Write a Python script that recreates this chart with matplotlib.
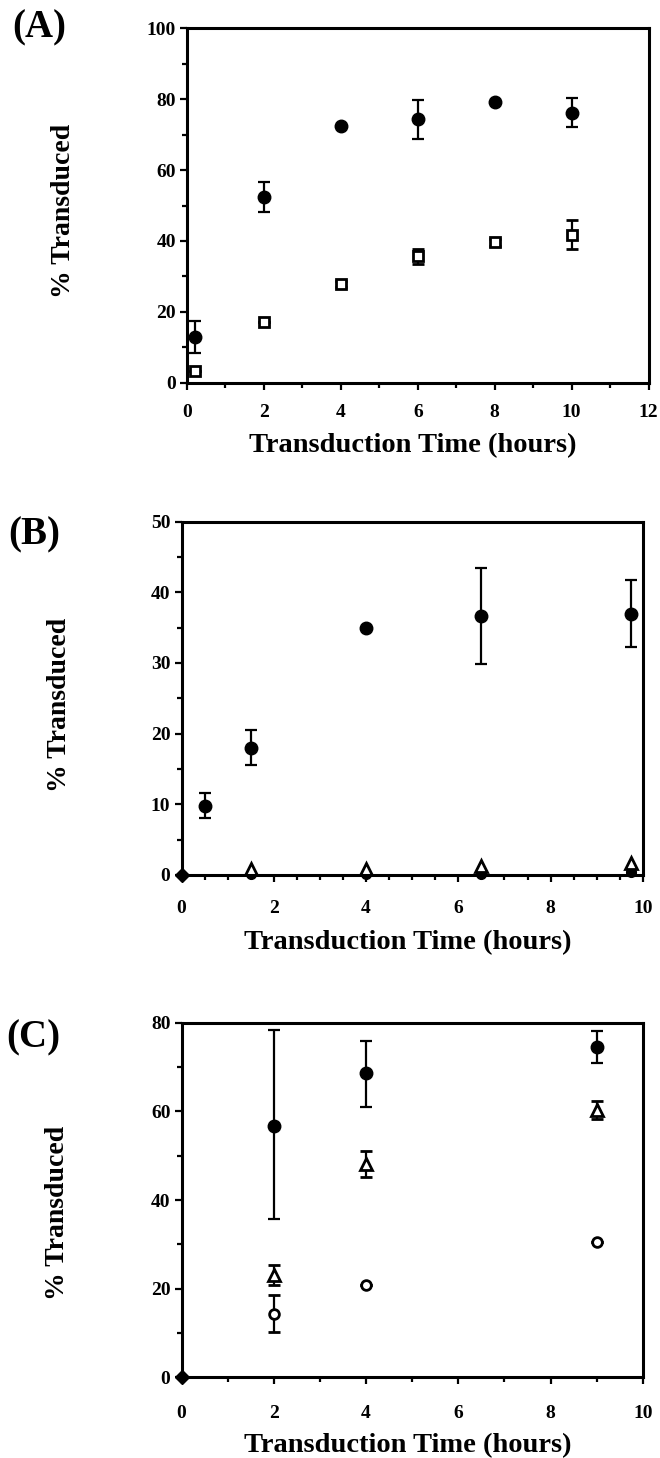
import matplotlib
matplotlib.use("Agg")
import matplotlib.pyplot as plt
from matplotlib.ticker import MultipleLocator

plt.rcParams['font.family'] = ['Liberation Serif', 'DejaVu Serif']
plt.rcParams['font.weight'] = 'bold'

# panel A
a_x = [0.2, 2, 4, 6, 8, 10]
a_fill = [13.0, 52.3, 72.4, 74.4, 79.1, 76.2]
a_fill_err = [4.5, 4.2, 0.0, 5.5, 0.0, 4.0]
a_open = [3.3, 17.2, 27.8, 35.7, 39.6, 41.7]
a_open_err = [0.0, 0.0, 0.8, 2.1, 1.0, 4.1]

# panel B
b_x = [0.5, 1.5, 4, 6.5, 9.75]
b_fill = [9.8, 18.0, 34.9, 36.6, 37.0]
b_fill_err = [1.8, 2.5, 0.0, 6.8, 4.8]
b_tri_x = [1.5, 4, 6.5, 9.75]
b_tri = [0.8, 0.8, 1.2, 1.7]
b_ctrl = [0.2, 0.2, 0.2, 0.4]

# panel C
c_x = [2, 4, 9]
c_fill = [56.7, 68.6, 74.6]
c_fill_err_lo = [20.9, 7.5, 3.6]
c_fill_err_hi = [21.6, 7.3, 3.6]
c_tri = [23.1, 48.1, 60.3]
c_tri_err = [2.2, 3.0, 2.0]
c_open = [14.4, 20.8, 30.6]
c_open_err = [4.1, 0.0, 0.0]

fig = plt.figure(figsize=(6.6, 14.58), dpi=100)

axA = fig.add_axes([0.2833, 0.7375, 0.6994, 0.2431])
axB = fig.add_axes([0.275, 0.3999, 0.699, 0.2423])
axC = fig.add_axes([0.275, 0.0553, 0.699, 0.2432])

ebkw = dict(ecolor='black', elinewidth=1.6, capsize=4.5, capthick=1.6, linestyle='none', clip_on=False)

# A
axA.errorbar(a_x, a_fill, yerr=a_fill_err, fmt='o', color='black', markersize=9, **ebkw)
axA.errorbar(a_x, a_open, yerr=a_open_err, fmt='s', mfc='white', mec='black', mew=2, markersize=7, **ebkw)
axA.set_xlim(0, 12)
axA.set_ylim(0, 100)
axA.xaxis.set_major_locator(MultipleLocator(2))
axA.xaxis.set_minor_locator(MultipleLocator(1))
axA.yaxis.set_major_locator(MultipleLocator(20))
axA.yaxis.set_minor_locator(MultipleLocator(10))

# B
axB.errorbar(b_x, b_fill, yerr=b_fill_err, fmt='o', color='black', markersize=9, **ebkw)
axB.plot(b_tri_x, b_ctrl, 'o', color='black', markersize=7, clip_on=False)
axB.plot(b_tri_x, b_tri, '^', mfc='white', mec='black', mew=2, markersize=9, clip_on=False)
axB.plot([0], [0], 'D', color='black', markersize=7, clip_on=False)
axB.set_xlim(0, 10)
axB.set_ylim(0, 50)
axB.xaxis.set_major_locator(MultipleLocator(2))
axB.xaxis.set_minor_locator(MultipleLocator(0.5))
axB.yaxis.set_major_locator(MultipleLocator(10))
axB.yaxis.set_minor_locator(MultipleLocator(5))

# C
axC.errorbar(c_x, c_fill, yerr=[c_fill_err_lo, c_fill_err_hi], fmt='o', color='black', markersize=9, **ebkw)
axC.errorbar(c_x, c_tri, yerr=c_tri_err, fmt='^', mfc='white', mec='black', mew=2, markersize=9, **ebkw)
axC.errorbar(c_x, c_open, yerr=c_open_err, fmt='o', mfc='white', mec='black', mew=2, markersize=7, **ebkw)
axC.plot([0], [0], 'D', color='black', markersize=7, clip_on=False)
axC.set_xlim(0, 10)
axC.set_ylim(0, 80)
axC.xaxis.set_major_locator(MultipleLocator(2))
axC.xaxis.set_minor_locator(MultipleLocator(1))
axC.yaxis.set_major_locator(MultipleLocator(20))
axC.yaxis.set_minor_locator(MultipleLocator(10))

xpads = [10, 13, 15]
xlab_y = [-0.141, -0.156, -0.157]
ylab_x = [-0.240, -0.237, -0.242]
ylab_y = [0.485, 0.481, 0.463]
for ax, xp, xy, yx, yy in zip([axA, axB, axC], xpads, xlab_y, ylab_x, ylab_y):
    for s in ax.spines.values():
        s.set_linewidth(2.2)
    ax.tick_params(which='both', direction='out', width=1.6, top=False, right=False)
    ax.tick_params(which='major', length=5)
    ax.tick_params(which='minor', length=3.5)
    ax.tick_params(axis='x', which='major', pad=xp, labelsize=14)
    ax.tick_params(axis='y', which='major', pad=3, labelsize=14)
    ax.set_xlabel('Transduction Time (hours)', fontsize=20.5, fontweight='bold')
    ax.set_ylabel('% Transduced', fontsize=20, fontweight='bold')
    ax.xaxis.set_label_coords(0.49, xy)
    ax.yaxis.set_label_coords(yx, yy)

fig.text(12 / 660, 1 - 9 / 1458, '(A)', fontsize=28, fontweight='bold', va='top', ha='left')
fig.text(8 / 660, 1 - 516 / 1458, '(B)', fontsize=28, fontweight='bold', va='top', ha='left')
fig.text(6 / 660, 1 - 1019 / 1458, '(C)', fontsize=28, fontweight='bold', va='top', ha='left')

fig.savefig('out.png', dpi=100)
